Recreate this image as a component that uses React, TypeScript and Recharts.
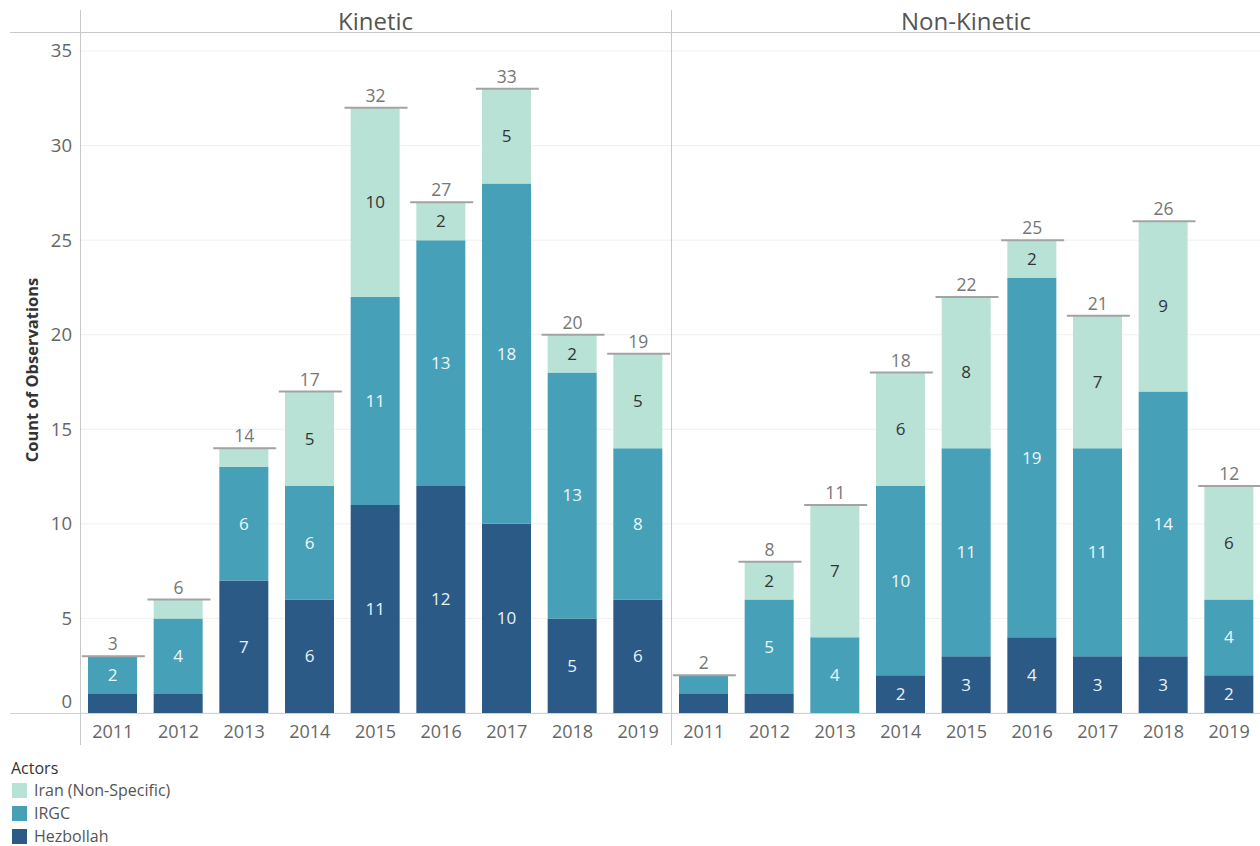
import React from 'react';
import { ComposedChart, Bar, Line, XAxis, YAxis, CartesianGrid, LabelList } from 'recharts';

const years = ['2011', '2012', '2013', '2014', '2015', '2016', '2017', '2018', '2019'];
const kineticHezbollah = [1, 1, 7, 6, 11, 12, 10, 5, 6];
const kineticIRGC = [2, 4, 6, 6, 11, 13, 18, 13, 8];
const kineticIran = [0, 1, 1, 5, 10, 2, 5, 2, 5];
const nonKineticHezbollah = [1, 1, 0, 2, 3, 4, 3, 3, 2];
const nonKineticIRGC = [1, 5, 4, 10, 11, 19, 11, 14, 4];
const nonKineticIran = [0, 2, 7, 6, 8, 2, 7, 9, 6];
const yTicks = [0, 5, 10, 15, 20, 25, 30, 35];
const panels = ['Kinetic', 'Non-Kinetic'];
const actors = ['Iran (Non-Specific)', 'IRGC', 'Hezbollah'];
const yTitle = 'Count of Observations';
const legendTitle = 'Actors';

const COLORS: Record<string, string> = {
  'Iran (Non-Specific)': '#b8e2d6',
  IRGC: '#46a1b8',
  Hezbollah: '#2b5a86',
};
const FONT = '"Open Sans", "Noto Sans", sans-serif';

const buildRows = (h: number[], g: number[], i: number[]) =>
  years.map((year, k) => ({ year, hez: h[k], irgc: g[k], iran: i[k], total: h[k] + g[k] + i[k] }));

const kineticRows = buildRows(kineticHezbollah, kineticIRGC, kineticIran);
const nonKineticRows = buildRows(nonKineticHezbollah, nonKineticIRGC, nonKineticIran);

const segLabel = (color: string) => (props: any) => {
  const vb = props.viewBox && props.viewBox.width != null ? props.viewBox : props;
  const { x, y, width, height } = vb;
  const value = props.value;
  if (value == null || Number(value) < 2 || x == null) return null;
  return (
    <text
      x={x + width / 2}
      y={y + height / 2}
      dy="0.35em"
      textAnchor="middle"
      fill={color}
      fontSize={17}
      fontFamily={FONT}
    >
      {value}
    </text>
  );
};

const TotalMark = (props: any) => {
  const { cx, cy, payload, index } = props;
  if (cx == null || cy == null) return <g key={index} />;
  return (
    <g key={index}>
      <line x1={cx - 31} x2={cx + 32} y1={cy} y2={cy} stroke="#a3a3a3" strokeWidth={2} />
      <text x={cx} y={cy - 12} dy="0.35em" textAnchor="middle" fontSize={17.5} fill="#777" fontFamily={FONT}>
        {payload.total}
      </text>
    </g>
  );
};

const YTick = (props: any) => {
  const { x, y, payload } = props;
  return (
    <text
      x={x}
      y={payload.value === 0 ? y - 11 : y}
      dy="0.35em"
      textAnchor="end"
      fontSize={18.5}
      fill="#666"
      fontFamily={FONT}
    >
      {payload.value}
    </text>
  );
};

const Panel = ({ rows, showY, width }: { rows: any[]; showY: boolean; width: number }) => (
  <ComposedChart
    width={width}
    height={760}
    data={rows}
    margin={{ top: 51, right: 0, left: showY ? 10 : 0, bottom: 0 }}
    barSize={49}
  >
    <CartesianGrid horizontal vertical={false} stroke="#f0f0f0" />
    <XAxis
      dataKey="year"
      height={47}
      axisLine={false}
      tickLine={false}
      tickMargin={6}
      interval={0}
      tick={{ fontSize: 18, fill: '#666', fontFamily: FONT }}
    />
    <YAxis
      width={showY ? 70 : 0}
      hide={!showY}
      domain={[0, 35]}
      ticks={yTicks}
      axisLine={false}
      tickLine={false}
      tick={<YTick />}
      allowDataOverflow
    />
    <Bar dataKey="hez" stackId="a" fill={COLORS.Hezbollah} isAnimationActive={false}>
      <LabelList dataKey="hez" content={segLabel('#e8f3f7')} />
    </Bar>
    <Bar dataKey="irgc" stackId="a" fill={COLORS.IRGC} isAnimationActive={false}>
      <LabelList dataKey="irgc" content={segLabel('#eef8fa')} />
    </Bar>
    <Bar dataKey="iran" stackId="a" fill={COLORS['Iran (Non-Specific)']} isAnimationActive={false}>
      <LabelList dataKey="iran" content={segLabel('#333333')} />
    </Bar>
    <Line
      dataKey="total"
      stroke="none"
      isAnimationActive={false}
      dot={(p: any) => <TotalMark {...p} key={p.index} />}
      activeDot={false}
    />
  </ComposedChart>
);

export default function App() {
  return (
    <div
      style={{
        position: 'absolute',
        left: 0,
        top: 0,
        width: 1260,
        height: 846,
        overflow: 'hidden',
        background: '#fff',
        fontFamily: FONT,
      }}
    >
      <div style={{ position: 'absolute', left: 0, top: 0 }}>
        <Panel rows={kineticRows} showY width={671} />
      </div>
      <div style={{ position: 'absolute', left: 671, top: 0 }}>
        <Panel rows={nonKineticRows} showY={false} width={591} />
      </div>
      <svg
        width={1260}
        height={846}
        style={{ position: 'absolute', left: 0, top: 0, pointerEvents: 'none' }}
      >
        <line x1={10} x2={1260} y1={32.5} y2={32.5} stroke="#c8c8c8" />
        <line x1={10} x2={1260} y1={713.5} y2={713.5} stroke="#d0d0d0" />
        <line x1={80.5} x2={80.5} y1={10} y2={745} stroke="#c8c8c8" />
        <line x1={671.5} x2={671.5} y1={10} y2={745} stroke="#c8c8c8" />
        <text x={375.5} y={22} dy="0.35em" textAnchor="middle" fontSize={24} fill="#555" fontFamily={FONT}>
          {panels[0]}
        </text>
        <text x={966} y={22} dy="0.35em" textAnchor="middle" fontSize={24} fill="#555" fontFamily={FONT}>
          {panels[1]}
        </text>
        <text
          x={0}
          y={0}
          transform="translate(32,370) rotate(-90)"
          dy="0.35em"
          textAnchor="middle"
          fontSize={16.5}
          fontWeight="bold"
          fill="#333"
          fontFamily={FONT}
        >
          {yTitle}
        </text>
        <text x={11} y={768} dy="0.35em" fontSize={16} fill="#333" fontFamily={FONT}>
          {legendTitle}
        </text>
        {actors.map((a, k) => (
          <g key={a}>
            <rect x={12} y={783 + k * 23} width={15} height={15} fill={COLORS[a]} />
            <text x={34} y={790.5 + k * 23} dy="0.35em" fontSize={16} fill="#555" fontFamily={FONT}>
              {a}
            </text>
          </g>
        ))}
      </svg>
    </div>
  );
}
